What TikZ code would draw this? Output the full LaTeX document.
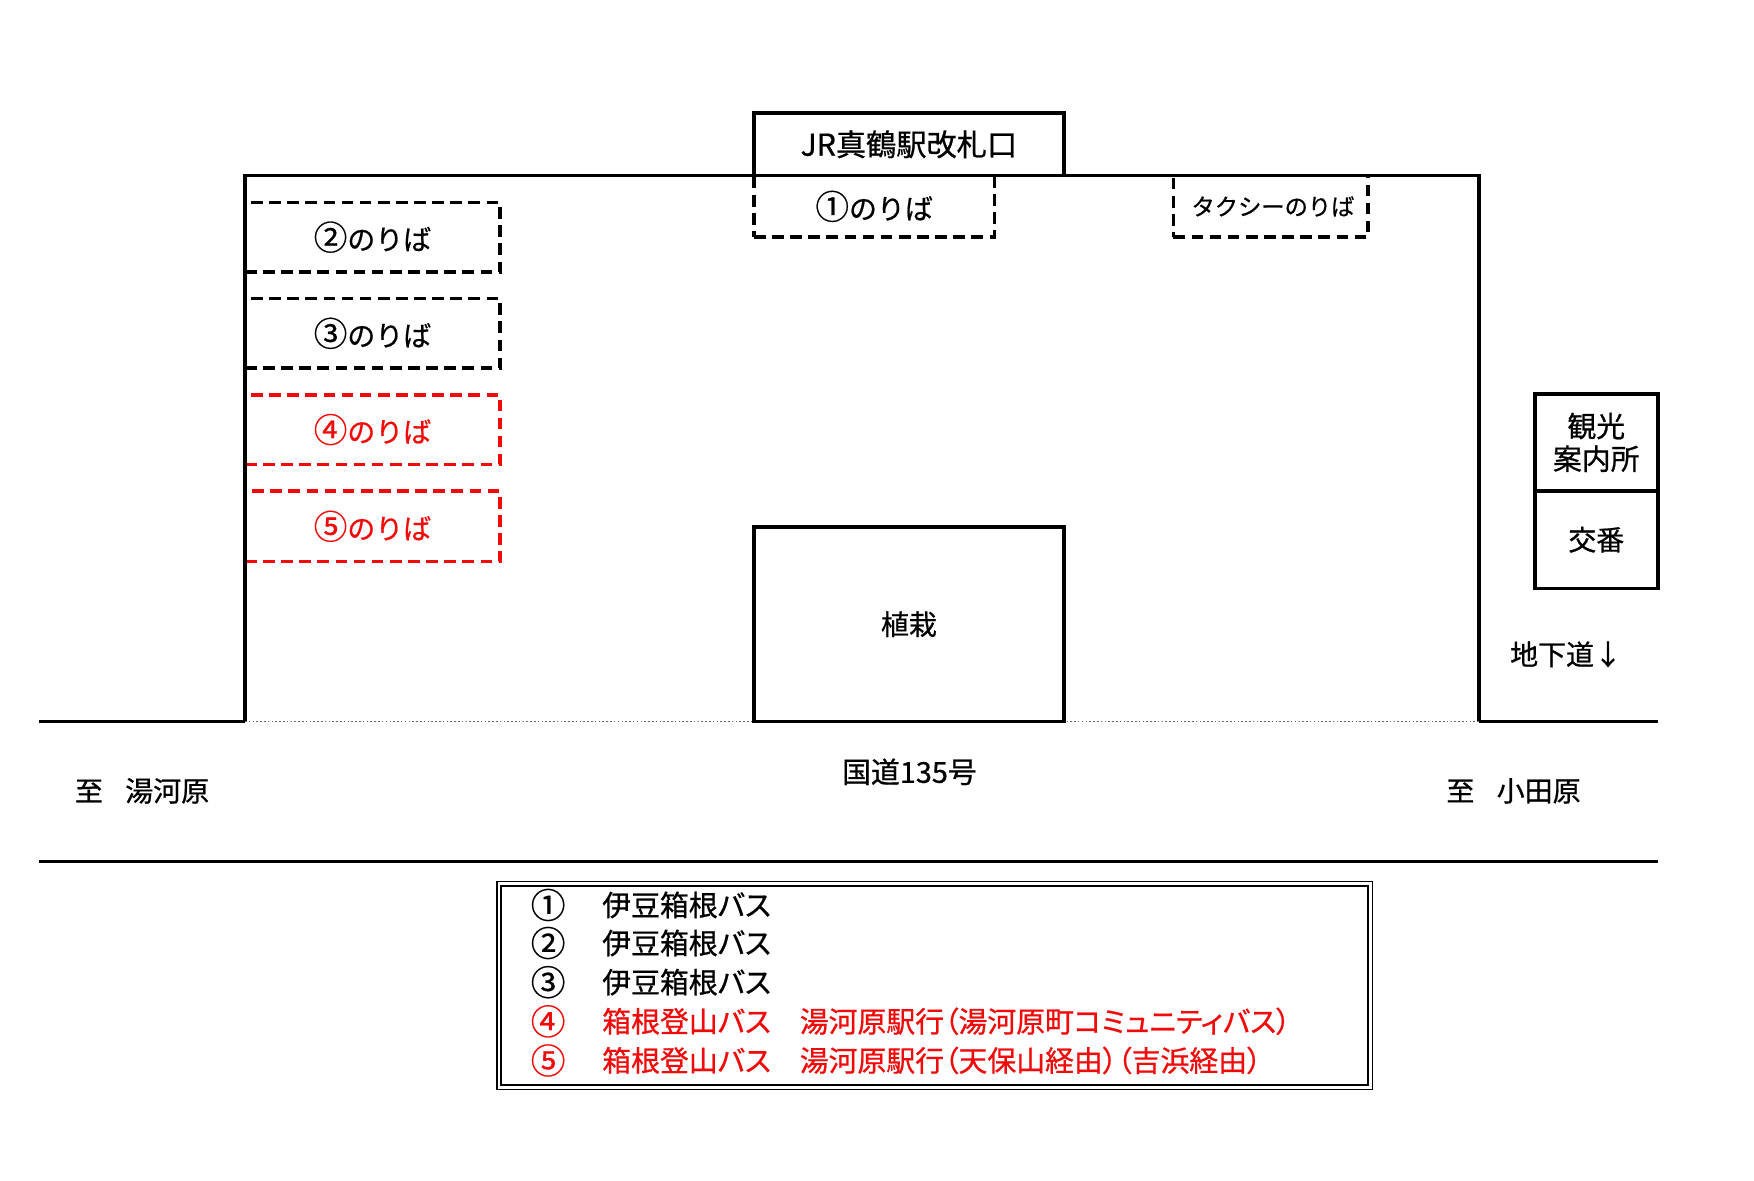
\documentclass[tikz,border=0pt]{standalone}
\usepackage{fontspec}
\setmainfont{Noto Sans CJK JP}[FakeBold=0.7]
\newfontfamily\propfont{Noto Sans CJK JP}[CharacterWidth=AlternateProportional, FakeBold=0.7]
\usetikzlibrary{fit}
\definecolor{busred}{RGB}{240,10,10}
\newcommand{\bigc}[1]{{\fontsize{15pt}{14pt}\selectfont #1}}
\tikzset{
  area/.style={draw, line width=1.6pt, inner sep=0pt},
  stopbox/.style={draw, dash pattern=on 5.2pt off 2.9pt, line width=1.55pt, inner sep=0pt},
  redstop/.style={stopbox, draw=busred},
  wall/.style={line width=1.6pt},
  txt/.style={inner sep=0pt, font=\fontsize{12.5pt}{14pt}\selectfont},
  redtxt/.style={txt, text=busred},
  legnum/.style={inner sep=0pt, font=\fontsize{15.5pt}{14pt}\selectfont},
  legtxt/.style={inner sep=0pt, anchor=west, font=\propfont\fontsize{12.9pt}{14pt}\selectfont},
}
\begin{document}
\begin{tikzpicture}[x=0.5pt,y=-0.5pt]
\useasboundingbox (0,0) rectangle (1568,1055);
% road and station outline coordinates
\coordinate (roadL) at (35,645);
\coordinate (stL) at (219,645);
\coordinate (stLt) at (219,157);
\coordinate (stRt) at (1322,157);
\coordinate (stR) at (1322,645);
\coordinate (roadR) at (1482,645);
\coordinate (road2L) at (35,770);
\coordinate (road2R) at (1482,770);
% dashed stops (drawn first, outline covers shared edges)
\node[stopbox, fit={(674,157) (889,212)}] (p1) {};
\node[stopbox, fit={(1049,157) (1223,212)}] (taxi) {};
\node[stopbox, fit={(219,181) (447,243)}] (p2) {};
\node[stopbox, fit={(219,267) (447,329)}] (p3) {};
\node[redstop, fit={(219,353) (447,415)}] (p4) {};
\node[redstop, fit={(219,439) (447,502)}] (p5) {};
% station outline and road
\draw[wall] (stL) -- (stLt) -- (stRt) -- (stR);
\draw[wall] (roadL) -- (stL);
\draw[wall] (stR) -- (roadR);
\draw[densely dotted, line width=0.7pt, black!60] (stL) -- (stR);
\draw[wall] (road2L) -- (road2R);
% solid boxes
\node[area, fill=white, fit={(674,101) (951,157)}] (jr) {};
\node[area, fit={(674,471) (951,645)}] (plant) {};
\node[area, fit={(1372,352) (1482,439)}] (info) {};
\node[area, fit={(1372,439) (1482,526)}] (koban) {};
% box texts
\node[txt, font=\fontsize{13.5pt}{15pt}\selectfont] (jrt) at (jr.center) {JR真鶴駅改札口};
\node[txt] (p1t) at (p1.center) {\bigc{①}のりば};
\node[txt, font=\fontsize{10.4pt}{12pt}\selectfont] (taxit) at ([xshift=1pt]taxi.center) {タクシーのりば};
\node[txt] (p2t) at (p2.center) {\bigc{②}のりば};
\node[txt] (p3t) at (p3.center) {\bigc{③}のりば};
\node[redtxt] (p4t) at (p4.center) {\bigc{④}のりば};
\node[redtxt] (p5t) at (p5.center) {\bigc{⑤}のりば};
\node[txt] (plantt) at (plant.center) {植栽};
\node[txt, align=center, font=\fontsize{12.9pt}{14.6pt}\selectfont] (infot) at (info.center) {観光\\案内所};
\node[txt] (kobant) at (koban.center) {交番};
% labels
\node[txt] (subway) at (1400,585) {地下道↓};
\node[txt, font=\fontsize{12.9pt}{14pt}\selectfont] (route) at (813,690) {国道135号};
\node[txt] (yugawara) at (127,707) {至\hspace{0.8em}湯河原};
\node[txt] (odawara) at (1353,707) {至\hspace{0.8em}小田原};
% legend
\node[draw, double, line width=0.75pt, double distance=1.2pt, inner sep=0pt, fit={(446,790) (1225,972)}] (legend) {};
\node[legnum] (n1) at (490,809) {①};
\node[legnum] (n2) at (490,843) {②};
\node[legnum] (n3) at (490,878) {③};
\node[legnum, text=busred] (n4) at (490,913) {④};
\node[legnum, text=busred] (n5) at (490,948) {⑤};
\node[legtxt] (t1) at (538,809) {伊豆箱根バス};
\node[legtxt] (t2) at (538,843) {伊豆箱根バス};
\node[legtxt] (t3) at (538,878) {伊豆箱根バス};
\node[legtxt, text=busred] (t4) at (538,913) {箱根登山バス　湯河原駅行（湯河原町コミュニティバス）};
\node[legtxt, text=busred] (t5) at (538,948) {箱根登山バス　湯河原駅行（天保山経由）（吉浜経由）};
\end{tikzpicture}
\end{document}
